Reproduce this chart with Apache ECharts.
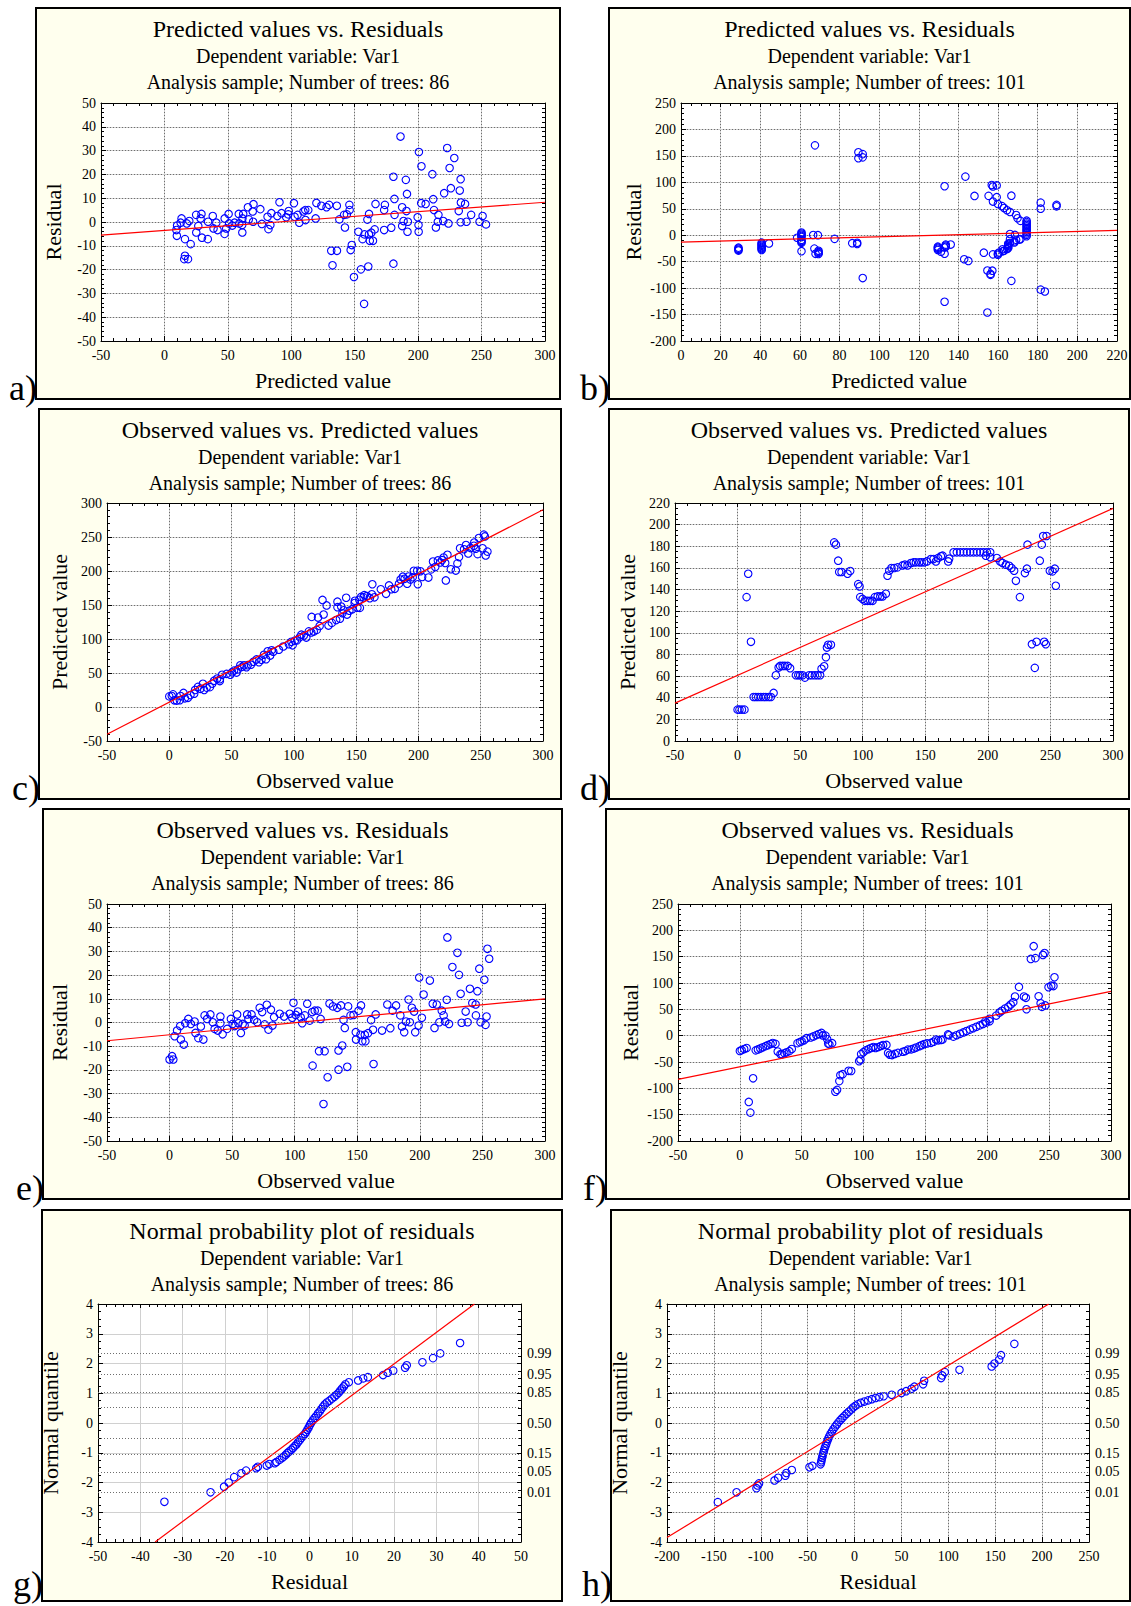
<!DOCTYPE html>
<html>
<head>
<meta charset="utf-8">
<script src="https://cdn.jsdelivr.net/npm/echarts@6/dist/echarts.min.js"></script>
<style>
html,body{margin:0;padding:0;background:#fff;}
#chart{width:1131px;height:1606px;}
</style>
</head>
<body>
<div id="chart"></div>
<script>
// ---------------- DATA ----------------
// Model A (86 trees): observed, residual, predicted
const obsA = [0,2,3,4,6,8.5,9,11.4,12.5,15,
  17,20,20.7,23,25,27,28,30,32.6,34.5,
  36,38.5,40.6,40.6,42.4,46,49,50.4,52,54,
  55,57,58.4,60,62,63,65.5,67.6,70,72,
  74,76,77.7,79,81,82.2,83.5,88,91.5,96,
  99,98,100.8,102.6,104.8,106,108,110,112,114,
  116,118.4,120.7,119.4,123.9,114.3,126.3,123,127.8,130.5,
  134,135,135,138,137,139,140,142,142.7,144.6,
  147,148.8,149,151,153,152.5,154,156.5,156,158.6,
  161,162.6,163,164.7,169.8,174,176.4,178.2,181,184.4,
  185.7,187.5,188.9,191,192,193.6,195.4,196.3,199,199.5,
  201.6,203,208,210.3,211.7,213.5,215.6,217.5,219,220.2,
  221.5,222,223.3,226,230,231.3,232.6,233.4,236.6,238.2,
  240,241.9,244.6,244.8,246,247.5,248.5,251.5,252.5,253.3,
  254,255.4];
const resA = [-15.6,-14.2,-15.6,-5.8,-3.4,-1.5,-7.2,-9.3,-0.3,1.5,
  -0.6,0.4,-4.4,-6.6,-1.7,-7.2,3,1.5,3.4,0.1,
  -2.7,-3.4,2.5,-0.3,-5,-2.7,1.5,-0.6,-1.5,3.4,
  -0.3,-4.4,-0.6,-1.3,3.4,1.5,3.4,1.1,0.1,6.2,
  4.4,-0.8,7.5,-3,5.4,-1.3,2.2,3.7,2.5,3.7,
  8.3,2,3.2,4.6,2.2,-0.3,3,7.9,0.8,4.4,
  5,5,1.5,-12.1,-12.1,-18.2,-23.1,-34.4,8,6.8,
  6.2,-11.8,-19.9,-9.7,7.2,1.1,-2.3,-18.7,6.8,3,
  3.2,-4.1,-7.2,5,7.2,-5.2,-7.9,-7.9,-5.2,-4.5,
  1,-3.1,-17.5,3.4,-3.4,7.6,-2.4,5,7.2,3,
  -1.7,-4.1,0.4,9.7,0.1,6.2,4.6,-4.1,-1.3,19,
  2,11.8,17.7,7.9,-2.3,7.6,0.1,5,3,0.4,
  9.6,35.9,-0.6,23.4,29.4,20.1,12.1,-0.1,4.6,0.1,
  14.2,8.2,7.6,3,13.2,22.7,0.1,18,-1,2.5,
  31.1,26.9];
const predA = [15.6,16.2,18.6,9.8,9.4,10,16.2,20.7,12.8,13.5,
  17.6,19.6,25.1,29.6,26.7,34.2,25,28.5,29.2,34.4,
  38.7,41.9,38.1,40.9,47.4,48.7,47.5,51,53.5,50.6,
  55.3,61.4,59,61.3,58.6,61.5,62.1,66.5,69.9,65.8,
  69.6,76.8,70.2,82,75.6,83.5,81.3,84.3,89,92.3,
  90.7,96,97.6,98,102.6,106.3,105,102.1,111.2,109.6,
  111,113.4,119.2,131.5,136,132.5,149.4,157.4,119.8,123.7,
  127.8,146.8,154.9,147.7,129.8,137.9,142.3,160.7,135.9,141.6,
  143.8,152.9,156.2,146,145.8,157.7,161.9,164.4,161.2,163.1,
  160,165.7,180.5,161.3,173.2,166.4,178.8,173.2,173.8,181.4,
  187.4,191.6,188.5,181.3,191.9,187.4,190.8,200.4,200.3,180.5,
  199.6,191.2,190.3,202.4,214,205.9,215.5,212.5,216,219.8,
  211.9,186.1,223.9,202.6,200.6,211.2,220.5,233.5,232,238.1,
  225.8,233.7,237,241.8,232.8,224.8,248.4,233.5,253.5,250.8,
  222.9,228.5];

// Model B (101 trees): observed, predicted, residual
const obsB = [0,1.5,3.5,5.5,8.5,7.2,10.7,12.8,14.6,16.5,
  18.6,20.8,22.6,24.8,26.6,28.8,30.6,32.8,34,36,
  37.8,40,42,46.6,48.5,50,52,53.8,57.3,59.4,
  61.8,63.9,66,67.1,69.2,70.6,71.4,72.4,74.6,77.2,
  78.6,80.4,81.2,83.1,87.9,90,96.4,97.5,98,99.9,
  101.7,103.9,106,107.9,109.7,111.9,114,115.8,118.5,119.8,
  121.2,123,125.2,127.8,131.8,133.7,135.8,138.5,140.6,142.5,
  145.1,147,149.1,151.3,154.5,156.6,158.5,160.3,162.5,163.8,
  168.3,169.1,172.6,175.2,177.9,180.6,183.2,185.9,188.5,191.2,
  193.9,196.5,199.2,198.4,201.9,201.9,207.2,209.9,211.7,214.4,
  217,218.9,221,222.4,225.6,229.6,231.2,231.7,235.2,238.9,
  237.5,241.5,243.1,244.2,246.9,245,246.3,249.5,251.7,253.5,
  254.3];
const predB = [29,29,29,29,154.6,133,91.7,40.7,40.7,40.7,
  40.7,40.7,40.7,40.7,40.7,44.4,60.8,67.9,69.4,69.4,
  69.4,69.4,67.3,60.8,60.8,60.8,60.8,58.6,60.8,60.8,
  60.8,60.8,60.8,66.7,69.1,77.5,86.4,88.9,88.9,183.6,
  181.5,166.7,156.2,156.2,154.6,157.1,145,142.9,133,131.2,
  129.6,129.6,129.6,129.6,133,133.6,133.6,133.6,136.1,152.8,
  157.4,159.9,159.9,160.5,162.3,163,162.3,164.5,165.1,165.1,
  165.1,165.1,165.1,166,168.2,168.2,166,169.1,170.7,171.3,
  166,168.5,174.4,174.4,174.4,174.4,174.4,174.4,174.4,174.4,
  174.4,174.4,174.4,171.3,174.4,169.8,169.1,166,164.5,163,
  162,159.9,157.4,148.1,133,155.2,159.3,181.5,89.5,91.7,
  67.6,166.7,181.5,189.5,189.5,91.7,89.5,157.4,156.8,159.3,
  143.5];
const resB = [-29,-27.5,-25.5,-23.5,-146.1,-125.8,-81,-27.9,-26.1,-24.2,
  -22.1,-19.9,-18.1,-15.9,-14.1,-15.6,-30.2,-35.1,-35.4,-33.4,
  -31.6,-29.4,-25.3,-14.2,-12.3,-10.8,-8.8,-4.8,-3.5,-1.4,
  1,3.1,5.2,0.4,0.1,-6.9,-15,-16.5,-14.3,-106.4,
  -102.9,-86.3,-75,-73.1,-66.7,-67.1,-48.6,-45.4,-35,-31.3,
  -27.9,-25.7,-23.6,-21.7,-23.3,-21.7,-19.6,-17.8,-17.6,-33,
  -36.2,-36.9,-34.7,-32.7,-30.5,-29.3,-26.5,-26,-24.5,-22.6,
  -20,-18.1,-16,-14.7,-13.7,-11.6,-7.5,-8.8,-8.2,-7.5,
  2.3,0.6,-1.8,0.8,3.5,6.2,8.8,11.5,14.1,16.8,
  19.5,22.1,24.8,27.1,27.5,32.1,38.1,43.9,47.2,51.4,
  55,59,63.6,74.3,92.6,74.4,71.9,50.2,145.7,147.2,
  169.9,74.8,61.6,54.7,57.4,153.3,156.8,92.1,94.9,94.2,
  110.8];

const npResA = [-34.3,-23.4,-20.2,-19.1,-17.8,-16.1,-15,-12.6,-12.2,-10.1,
  -9.5,-8.2,-7.8,-7.1,-6.5,-6.1,-5.6,-5.2,-4.8,-4.3,
  -3.9,-3.5,-3.1,-2.7,-2.3,-1.9,-1.5,-1.1,-0.8,-0.5,
  -0.2,0.1,0.4,0.8,1.2,1.6,2,2.4,2.8,3.2,
  3.6,4.1,4.7,5.3,5.9,6.4,6.9,7.3,7.7,8.1,
  8.5,9.3,11.5,12.7,13.8,17.4,18.5,19.8,22.6,23,
  26.7,29.2,30.9,35.6];
const npQA = [-2.65,-2.33,-2.14,-2,-1.82,-1.69,-1.6,-1.52,-1.47,-1.43,
  -1.38,-1.35,-1.31,-1.24,-1.18,-1.13,-1.07,-1.01,-0.96,-0.9,
  -0.84,-0.78,-0.72,-0.65,-0.58,-0.5,-0.43,-0.37,-0.3,-0.23,
  -0.15,-0.07,0.01,0.09,0.17,0.24,0.32,0.39,0.47,0.55,
  0.62,0.69,0.75,0.82,0.88,0.95,1.02,1.09,1.16,1.23,
  1.3,1.37,1.43,1.5,1.54,1.61,1.69,1.76,1.86,1.94,
  2.04,2.18,2.34,2.69];
const npResB = [-145.8,-125.8,-104.6,-103.5,-101.9,-85.4,-81.5,-73.8,-72.7,-66.9,
  -48.1,-45,-36.2,-35.6,-35.2,-34.6,-34,-33.3,-32.6,-31.8,
  -30.9,-30,-29.1,-28.1,-27,-25.7,-24.2,-22.6,-20.8,-18.9,
  -17,-15,-13,-10.8,-8.5,-6.2,-3.8,-1.5,1,3.5,
  6.5,10.5,14.5,18.5,22.5,26.5,31,39.6,50,55,
  60.8,63.8,73.1,74.2,92.3,93.5,96.2,111.9,146.2,149.2,
  154.2,156.2,170.4];
const npQB = [-2.66,-2.33,-2.19,-2.1,-2.03,-1.93,-1.84,-1.77,-1.68,-1.58,
  -1.49,-1.44,-1.39,-1.32,-1.25,-1.17,-1.09,-1.01,-0.93,-0.85,
  -0.77,-0.69,-0.61,-0.53,-0.45,-0.37,-0.29,-0.21,-0.13,-0.05,
  0.03,0.1,0.17,0.24,0.31,0.38,0.45,0.52,0.58,0.63,
  0.68,0.72,0.76,0.8,0.84,0.87,0.9,0.95,1.01,1.07,
  1.15,1.22,1.3,1.42,1.51,1.6,1.71,1.79,1.9,2,
  2.13,2.28,2.66];

// Fitted (red) lines: end points
const fitA_predRes = [[-50,-5.5],[300,8.3]];
const fitB_predRes = [[0,-13],[220,9]];
const fitA_obsPred = [[-50,-40],[300,290]];
const fitB_obsPred = [[-50,35],[300,215]];
const fitA_obsRes = [[-50,-7.7],[300,10]];
const fitB_obsRes = [[-50,-83],[300,84]];
const fitA_norm = [[-36.5,-4],[39,4]];
const fitB_norm = [[-200,-3.85],[207,4]];

// Probability scale of the normal plots
const probLabels = ['0.99','0.95','0.85','0.50','0.15','0.05','0.01'];
const probQuantiles = [2.33,1.64,1.04,0,-1.04,-1.64,-2.33];
const probGridQuantiles = [2.33,1.64,1.04,0.52,-0.52,-1.04,-1.64,-2.33];

// Axis scales: [min, max, interval]
const scaleObsPred = [-50,300,50];
const scaleResA = [-50,50,10];
const scalePredB = [0,220,20];
const scaleResB = [-200,250,50];
const scalePredBy = [0,220,20];
const scaleQ = [-4,4,1];
const scaleNormA = [-50,50,10];
const scaleNormB = [-200,250,50];

// ---------------- LAYOUT ----------------
const FONT = "'Liberation Serif', 'Times New Roman', 'DejaVu Serif', serif";
const panels = [
  {letter:'a)', box:[36,8,524,391], plot:[101,103,444,238], title:'Predicted values vs. Residuals', trees:'86',
    xs:scaleObsPred, ys:scaleResA, xName:'Predicted value', yName:'Residual', px:predA, py:resA, fit:fitA_predRes, minorX:5, minorY:5},
  {letter:'b)', box:[609,8,521,391], plot:[681,103,436,238], title:'Predicted values vs. Residuals', trees:'101',
    xs:scalePredB, ys:scaleResB, xName:'Predicted value', yName:'Residual', px:predB, py:resB, fit:fitB_predRes, minorX:4, minorY:5},
  {letter:'c)', box:[39,409,522,390], plot:[107,503,436,238], title:'Observed values vs. Predicted values', trees:'86',
    xs:scaleObsPred, ys:scaleObsPred, xName:'Observed value', yName:'Predicted value', px:obsA, py:predA, fit:fitA_obsPred, minorX:5, minorY:5},
  {letter:'d)', box:[609,409,520,390], plot:[675,503,438,238], title:'Observed values vs. Predicted values', trees:'101',
    xs:scaleObsPred, ys:scalePredBy, xName:'Observed value', yName:'Predicted value', px:obsB, py:predB, fit:fitB_obsPred, minorX:5, minorY:4},
  {letter:'e)', box:[43,809,519,390], plot:[107,904,438,237], title:'Observed values vs. Residuals', trees:'86',
    xs:scaleObsPred, ys:scaleResA, xName:'Observed value', yName:'Residual', px:obsA, py:resA, fit:fitA_obsRes, minorX:5, minorY:5},
  {letter:'f)', box:[606,809,523,390], plot:[678,904,433,237], title:'Observed values vs. Residuals', trees:'101',
    xs:scaleObsPred, ys:scaleResB, xName:'Observed value', yName:'Residual', px:obsB, py:resB, fit:fitB_obsRes, minorX:5, minorY:5},
  {letter:'g)', box:[42,1210,520,391], plot:[98,1304,423,238], title:'Normal probability plot of residuals', trees:'86',
    xs:scaleNormA, ys:scaleQ, xName:'Residual', yName:'Normal quantile', px:npResA, py:npQA, fit:fitA_norm, minorX:5, minorY:4, normal:true, lightGrid:true},
  {letter:'h)', box:[611,1210,519,391], plot:[667,1304,422,238], title:'Normal probability plot of residuals', trees:'101',
    xs:scaleNormB, ys:scaleQ, xName:'Residual', yName:'Normal quantile', px:npResB, py:npQB, fit:fitB_norm, minorX:5, minorY:4, normal:true}
];

const PAGE_H = 1606;
const LIGHT = {color:'#d0d0d0', width:1, type:'solid'};
const DOTS = {color:'#6e6e6e', width:1, type:[1,2]};
const tickStyle = {color:'#000', width:1};
const LABEL_SIZE = 14;
const LETTER_SIZE = 36;

const grids = [], xAxes = [], yAxes = [], series = [], graphics = [];

panels.forEach((p, i) => {
  const [bx, by, bw, bh] = p.box;
  const [gx, gy, gw, gh] = p.plot;
  grids.push({left:gx, top:gy, width:gw, height:gh, show:false});

  const baseX = {gridIndex:i, type:'value', min:p.xs[0], max:p.xs[1], interval:p.xs[2], z:2};
  const baseY = {gridIndex:i, type:'value', min:p.ys[0], max:p.ys[1], interval:p.ys[2], z:2};

  // bottom x axis
  xAxes.push(Object.assign({}, baseX, {
    position:'bottom', name:p.xName, nameLocation:'middle', nameGap:28,
    nameTextStyle:{fontFamily:FONT, fontSize:22, color:'#000'},
    axisLine:{show:true, onZero:false, lineStyle:tickStyle},
    axisTick:{show:true, inside:true, length:5, lineStyle:tickStyle},
    minorTick:{show:true, splitNumber:p.minorX, length:3, lineStyle:tickStyle},
    axisLabel:{show:true, margin:7, fontFamily:FONT, fontSize:LABEL_SIZE, color:'#000', showMinLabel:true, showMaxLabel:true},
    splitLine:{show:true, lineStyle: LIGHT}
  }));
  // top x axis (frame + dotted overlay)
  xAxes.push(Object.assign({}, baseX, {
    position:'top',
    axisLine:{show:true, onZero:false, lineStyle:tickStyle},
    axisTick:{show:true, inside:true, length:4, lineStyle:tickStyle},
    minorTick:{show:true, splitNumber:p.minorX, length:3, lineStyle:tickStyle},
    axisLabel:{show:false},
    splitLine:{show:!p.lightGrid, lineStyle: DOTS}
  }));
  // left y axis
  yAxes.push(Object.assign({}, baseY, {
    position:'left', name:p.yName, nameLocation:'middle', nameGap:37, nameRotate:90,
    nameTextStyle:{fontFamily:FONT, fontSize:22, color:'#000'},
    axisLine:{show:true, onZero:false, lineStyle:tickStyle},
    axisTick:{show:true, inside:true, length:5, lineStyle:tickStyle},
    minorTick:{show:true, splitNumber:p.minorY, length:3, lineStyle:tickStyle},
    axisLabel:{show:true, margin:5, fontFamily:FONT, fontSize:LABEL_SIZE, color:'#000', showMinLabel:true, showMaxLabel:true},
    splitLine:{show:true, lineStyle: LIGHT}
  }));
  // right y axis
  const right = Object.assign({}, baseY, {
    position:'right',
    axisLine:{show:true, onZero:false, lineStyle:tickStyle},
    axisTick:{show:true, inside:true, length:4, lineStyle:tickStyle},
    minorTick:{show:true, splitNumber:p.minorY, length:3, lineStyle:tickStyle},
    axisLabel:{show:false},
    splitLine:{show:!p.lightGrid, lineStyle: DOTS}
  });
  if (p.normal) {
    right.axisLabel = {
      show:true, margin:6, fontFamily:FONT, fontSize:LABEL_SIZE, color:'#000',
      customValues: probQuantiles,
      formatter: (v) => { const k = probQuantiles.indexOf(v); return k >= 0 ? probLabels[k] : ''; }
    };
  }
  yAxes.push(right);

  const pts = p.px.map((x, k) => [x, p.py[k]]);
  const sc = {
    type:'scatter', xAxisIndex:2*i, yAxisIndex:2*i, data:pts,
    symbol:'circle', symbolSize:7.5,
    itemStyle:{color:'rgba(0,0,0,0)', borderColor:'#0000ff', borderWidth:1.1, opacity:1},
    emphasis:{disabled:true}, silent:true, z:3
  };
  if (p.normal) {
    sc.markLine = {
      silent:true, symbol:['none','none'], label:{show:false}, animation:false,
      lineStyle:{color:'#6e6e6e', width:1, type:[1,2]},
      emphasis:{disabled:true},
      data: probGridQuantiles.map(q => ({yAxis:q}))
    };
  }
  series.push(sc);
  series.push({
    type:'line', xAxisIndex:2*i, yAxisIndex:2*i, data:p.fit,
    showSymbol:false, symbol:'none', silent:true,
    lineStyle:{color:'#ff0000', width:1.2}, z:4
  });

  // yellow frame box and white plot background (drawn beneath the axes)
  graphics.push({type:'rect', z:-10, shape:{x:bx, y:by, width:bw, height:bh},
    style:{fill:'#ffffee', stroke:'#000', lineWidth:2}});
  graphics.push({type:'rect', z:-5, shape:{x:gx, y:gy, width:gw, height:gh},
    style:{fill:'#ffffff'}});
  const cx = bx + bw/2;
  const T = (x, y, text, size, extra) => Object.assign({type:'text', z:10, x:x, y:y,
    style:Object.assign({text:text, fontFamily:FONT, fontSize:size, fill:'#000',
      align:'center', verticalAlign:'middle', textAlign:'center', textVerticalAlign:'middle'}, extra||{})});
  graphics.push(T(cx, by+21, p.title, 24));
  graphics.push(T(cx, by+48, 'Dependent variable: Var1', 20));
  graphics.push(T(cx, by+74, 'Analysis sample; Number of trees: ' + p.trees, 20));
  const letterY = Math.min(by + bh - 11, PAGE_H - LETTER_SIZE/2 - 4);
  graphics.push(T(bx+1, letterY, p.letter, LETTER_SIZE, {align:'right', textAlign:'right'}));
});

const chart = echarts.init(document.getElementById('chart'), null, {renderer:'svg', width:1131, height:1606});
chart.setOption({
  animation:false,
  backgroundColor:'#ffffff',
  textStyle:{fontFamily:FONT},
  grid:grids,
  xAxis:xAxes,
  yAxis:yAxes,
  series:series,
  graphic:{elements:graphics}
});
</script>
</body>
</html>
